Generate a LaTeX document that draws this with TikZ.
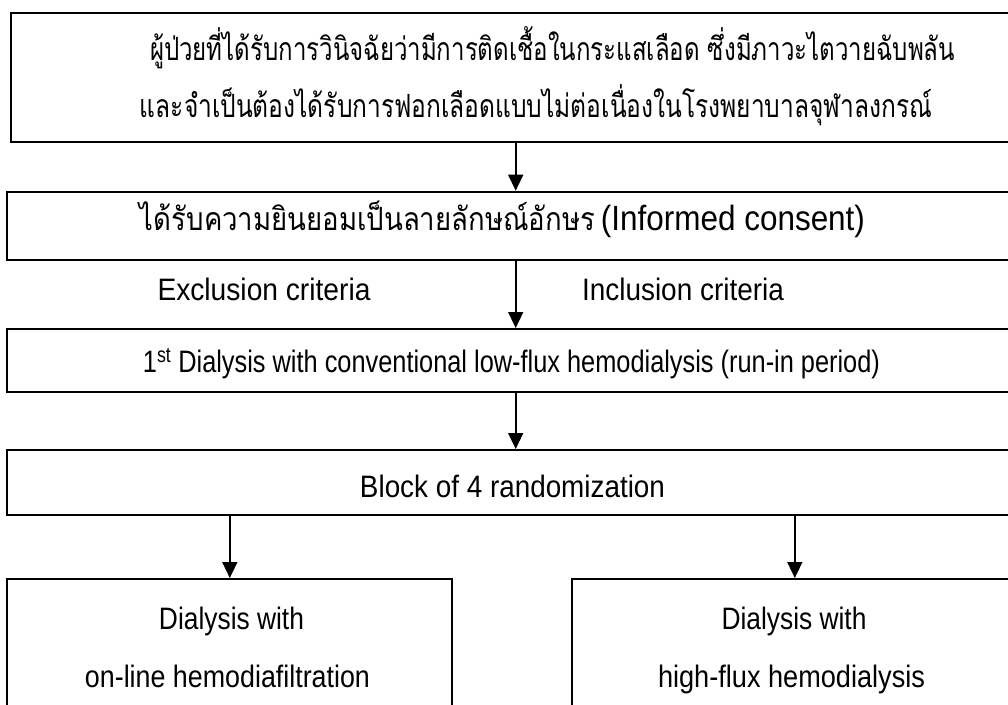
\documentclass[tikz,border=0pt]{standalone}
\usepackage{graphicx}
\usepackage{fontspec}
\setmainfont{Liberation Sans}
\newfontfamily\thaifont[Script=Thai]{Loma}
\usetikzlibrary{arrows.meta}

% set a text at a given width, keeping its natural height
\newcommand\fitw[2]{\resizebox{#1}{\height}{#2}}

\begin{document}
\begin{tikzpicture}[x=1pt,y=-1pt,
  stepbox/.style={draw, line width=2pt, rectangle, inner sep=0pt},
  flow/.style={-{Triangle[width=15pt,length=16pt]}, line width=1.6pt},
  thaitxt/.style={anchor=base, inner sep=0pt, font=\thaifont\fontsize{32}{38}\selectfont},
  lattxt/.style={anchor=base, inner sep=0pt, font=\fontsize{31}{36}\selectfont}]
\useasboundingbox (0,0) rectangle (1008,704);
\clip (0,0) rectangle (1008,704);

% boxes (right and lower parts run off the page)
\node[stepbox, minimum width=1009.4pt, minimum height=129pt] (b1) at (515.7,77.2) {};
\node[stepbox, minimum width=1016.8pt, minimum height=68pt] (b2) at (515.7,225.7) {};
\node[stepbox, minimum width=1016.8pt, minimum height=62.7pt] (b3) at (515.7,360.35) {};
\node[stepbox, minimum width=1016.8pt, minimum height=65pt] (b4) at (515.7,482.5) {};
\node[stepbox, minimum width=445pt, minimum height=150pt] (b5) at (229.8,654) {};
\node[stepbox, minimum width=445pt, minimum height=150pt] (b6) at (794.8,654) {};

% texts
\node[thaitxt] (t1a) at (552.5,60) {\fitw{805pt}{ผู้ป่วยที่ได้รับการวินิจฉัยว่ามีการติดเชื้อในกระแสเลือด ซึ่งมีภาวะไตวายฉับพลัน}};
\node[thaitxt] (t1b) at (536,117) {\fitw{792pt}{และจำเป็นต้องได้รับการฟอกเลือดแบบไม่ต่อเนื่องในโรงพยาบาลจุฬาลงกรณ์}};
\node[thaitxt] (t2) at (502.5,230) {\fitw{455pt}{ได้รับความยินยอมเป็นลายลักษณ์อักษร}\hspace{6pt}\fitw{264pt}{\rmfamily\fontsize{35}{40}\selectfont(Informed consent)}};
\node[lattxt] (ex) at (264,300) {\fitw{213pt}{Exclusion criteria}};
\node[lattxt] (in) at (683,300) {\fitw{202pt}{Inclusion criteria}};
\node[lattxt] (t3) at (511.5,372) {\fitw{737pt}{1\textsuperscript{st} Dialysis with conventional low-flux hemodialysis (run-in period)}};
\node[lattxt] (t4) at (512.5,497) {\fitw{305pt}{Block of 4 randomization}};
\node[lattxt] (t5a) at (231.5,629) {\fitw{145pt}{Dialysis with}};
\node[lattxt] (t5b) at (227.5,687) {\fitw{285pt}{on-line hemodiafiltration}};
\node[lattxt] (t6a) at (794,629) {\fitw{145pt}{Dialysis with}};
\node[lattxt] (t6b) at (791.5,687) {\fitw{267pt}{high-flux hemodialysis}};

% connectors
\draw[flow] (b1.south) -- (b2.north);
\draw[flow] (b2.south) -- (b3.north);
\draw[flow] (b3.south) -- (b4.north);
\draw[flow] (b4.south -| b5.north) -- (b5.north);
\draw[flow] (b4.south -| b6.north) -- (b6.north);
\end{tikzpicture}
\end{document}
